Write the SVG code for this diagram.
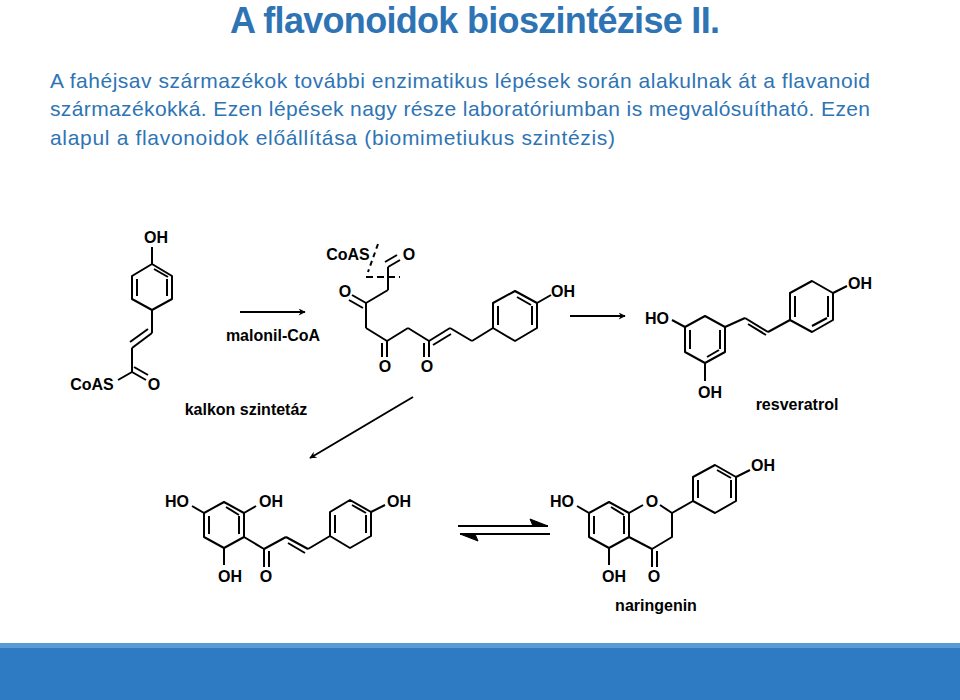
<svg xmlns="http://www.w3.org/2000/svg" width="960" height="700" viewBox="0 0 960 700">
<defs>
<style>
.t{font-family:"Liberation Sans",Arial,sans-serif;fill:#2e74b5;font-weight:bold}
.b{font-family:"Liberation Sans",Arial,sans-serif;fill:#2e74b5;font-size:21px}
.l{font-family:"Liberation Sans",Arial,sans-serif;font-weight:bold;font-size:16px;fill:#000;text-anchor:middle}
.m line,.m polyline,.m polygon{stroke:#000;stroke-width:2;fill:none;stroke-linejoin:round}
.a{stroke:#000;stroke-width:2;fill:none}
</style>
<marker id="ah" viewBox="0 0 10 10" refX="9" refY="5" markerWidth="9" markerHeight="7" markerUnits="userSpaceOnUse" orient="auto"><path d="M0,0 L10,5 L0,10 L3,5 Z" fill="#000"/></marker>
</defs>
<rect width="960" height="700" fill="#fff"/>
<text class="t" x="230" y="33" font-size="36" textLength="490">A flavonoidok bioszintézise II.</text>
<text class="b" x="50" y="88" textLength="820">A fahéjsav származékok további enzimatikus lépések során alakulnak át a flavanoid</text>
<text class="b" x="50" y="116" textLength="820">származékokká. Ezen lépések nagy része laboratóriumban is megvalósuítható. Ezen</text>
<text class="b" x="50" y="145" textLength="565">alapul a flavonoidok előállítása (biomimetiukus szintézis)</text>
<rect x="0" y="643" width="960" height="57" fill="#2e7bc4"/>
<rect x="0" y="643" width="960" height="5" fill="#5a9bd5"/>

<g id="coumaroyl" class="m">
<polygon points="152,264 172,276 172,299 152,310 132,299 132,276"/>
<line x1="137" y1="279" x2="137" y2="296"/><line x1="167" y1="279" x2="167" y2="296"/><line x1="154" y1="269" x2="168" y2="277"/>
<line x1="152" y1="264" x2="152" y2="247"/>
<line x1="152" y1="310" x2="152" y2="333"/>
<line x1="152" y1="333" x2="132" y2="348"/><line x1="148" y1="329" x2="130" y2="342"/>
<line x1="132" y1="348" x2="132" y2="372"/>
<line x1="132" y1="372" x2="118" y2="380"/>
<line x1="132" y1="372" x2="146" y2="380"/><line x1="134" y1="367" x2="148" y2="375"/>
<text class="l" x="156" y="243">OH</text>
<text class="l" x="92" y="390">CoAS</text>
<text class="l" x="154" y="390">O</text>
</g>

<g id="polyketide" class="m">
<line x1="388" y1="267" x2="388" y2="290"/>
<line x1="388" y1="267" x2="400" y2="260"/><line x1="385" y1="262" x2="397" y2="255"/>
<line x1="378" y1="244" x2="368" y2="272" stroke-dasharray="5,4"/>
<line x1="366" y1="277" x2="400" y2="277" stroke-dasharray="7,4"/>
<line x1="388" y1="290" x2="366" y2="303"/>
<line x1="366" y1="303" x2="352" y2="295"/><line x1="363" y1="308" x2="349" y2="300"/>
<line x1="366" y1="303" x2="366" y2="328"/>
<line x1="366" y1="328" x2="387" y2="341"/>
<line x1="387" y1="341" x2="387" y2="357"/><line x1="382" y1="343" x2="382" y2="357"/>
<line x1="387" y1="341" x2="408" y2="328"/>
<line x1="408" y1="328" x2="429" y2="341"/>
<line x1="429" y1="341" x2="429" y2="357"/><line x1="424" y1="343" x2="424" y2="357"/>
<line x1="429" y1="341" x2="450" y2="328"/><line x1="433" y1="345" x2="451" y2="334"/>
<line x1="450" y1="328" x2="472" y2="341"/>
<line x1="472" y1="341" x2="493" y2="328"/>
<polygon points="493,328 493,303 515,291 537,303 537,328 515,341"/>
<line x1="498" y1="306" x2="498" y2="325"/><line x1="532" y1="306" x2="532" y2="325"/><line x1="517" y1="297" x2="531" y2="305"/>
<line x1="537" y1="303" x2="551" y2="295"/>
<text class="l" x="348" y="260">CoAS</text>
<text class="l" x="409" y="260">O</text>
<text class="l" x="345" y="297">O</text>
<text class="l" x="385" y="372">O</text>
<text class="l" x="427" y="372">O</text>
<text class="l" x="563" y="297">OH</text>
</g>

<g id="resveratrol" class="m">
<polygon points="685,327 705,316 725,327 725,352 705,363 685,352"/>
<line x1="690" y1="330" x2="690" y2="349"/><line x1="720" y1="330" x2="720" y2="349"/><line x1="707" y1="357" x2="719" y2="350"/>
<line x1="685" y1="327" x2="672" y2="320"/>
<line x1="705" y1="363" x2="705" y2="381"/>
<line x1="725" y1="327" x2="745" y2="318"/>
<line x1="745" y1="318" x2="768" y2="332"/><line x1="748" y1="324" x2="766" y2="335"/>
<line x1="768" y1="332" x2="790" y2="320"/>
<polygon points="790,320 790,293 812,281 833,293 833,320 812,332"/>
<line x1="795" y1="296" x2="795" y2="317"/><line x1="828" y1="296" x2="828" y2="317"/><line x1="812" y1="326" x2="827" y2="318"/>
<line x1="833" y1="293" x2="847" y2="286"/>
<text class="l" x="657" y="324">HO</text>
<text class="l" x="710" y="398">OH</text>
<text class="l" x="860" y="289">OH</text>
<text class="l" x="797" y="410">resveratrol</text>
</g>

<g id="chalcone" class="m">
<polygon points="224,502 244,513 244,537 224,548 204,537 204,513"/>
<line x1="209" y1="516" x2="209" y2="534"/><line x1="239" y1="516" x2="239" y2="534"/><line x1="226" y1="507" x2="239" y2="515"/>
<line x1="204" y1="513" x2="192" y2="506"/>
<line x1="244" y1="513" x2="256" y2="506"/>
<line x1="224" y1="548" x2="224" y2="565"/>
<line x1="244" y1="537" x2="264" y2="549"/>
<line x1="264" y1="549" x2="264" y2="567"/><line x1="269" y1="551" x2="269" y2="567"/>
<line x1="264" y1="549" x2="286" y2="537"/>
<line x1="286" y1="537" x2="308" y2="549"/><line x1="288" y1="543" x2="305" y2="553"/>
<line x1="308" y1="549" x2="330" y2="536"/>
<polygon points="330,536 330,512 350,500 371,512 371,536 350,548"/>
<line x1="335" y1="515" x2="335" y2="533"/><line x1="366" y1="515" x2="366" y2="533"/><line x1="352" y1="505" x2="366" y2="513"/>
<line x1="371" y1="512" x2="385" y2="505"/>
<text class="l" x="177" y="507">HO</text>
<text class="l" x="271" y="507">OH</text>
<text class="l" x="230" y="582">OH</text>
<text class="l" x="266" y="582">O</text>
<text class="l" x="399" y="507">OH</text>
</g>

<g id="naringenin" class="m">
<polygon points="609,502 629,513 629,537 609,548 589,537 589,513"/>
<line x1="594" y1="516" x2="594" y2="534"/><line x1="624" y1="516" x2="624" y2="534"/><line x1="611" y1="507" x2="624" y2="515"/>
<line x1="589" y1="513" x2="577" y2="506"/>
<polyline points="629,513 643,505"/>
<polyline points="660,505 672,513 672,537 652,549 629,537"/>
<line x1="652" y1="549" x2="652" y2="567"/><line x1="657" y1="551" x2="657" y2="567"/>
<line x1="609" y1="548" x2="609" y2="565"/>
<line x1="672" y1="513" x2="693" y2="501"/>
<polygon points="693,501 693,477 715,465 736,477 736,501 715,513"/>
<line x1="698" y1="480" x2="698" y2="498"/><line x1="731" y1="480" x2="731" y2="498"/><line x1="717" y1="470" x2="731" y2="478"/>
<line x1="736" y1="477" x2="750" y2="470"/>
<text class="l" x="562" y="507">HO</text>
<text class="l" x="652" y="507">O</text>
<text class="l" x="614" y="582">OH</text>
<text class="l" x="654" y="582">O</text>
<text class="l" x="763" y="471">OH</text>
<text class="l" x="656" y="611">naringenin</text>
</g>

<g id="connectors">
<line class="a" x1="240" y1="312" x2="305" y2="312" marker-end="url(#ah)"/>
<line class="a" x1="570" y1="316" x2="625" y2="316" marker-end="url(#ah)"/>
<line class="a" x1="413" y1="397" x2="310" y2="458" marker-end="url(#ah)"/>
<line class="a" x1="458" y1="526" x2="548" y2="526"/>
<path d="M548,526 L530,519 L533,526 Z" fill="#000" stroke="#000" stroke-width="1"/>
<line class="a" x1="460" y1="534" x2="550" y2="534"/>
<path d="M460,534 L478,541 L475,534 Z" fill="#000" stroke="#000" stroke-width="1"/>
<text class="l" x="273" y="341">malonil-CoA</text>
<text class="l" x="246" y="415">kalkon szintetáz</text>
</g>
</svg>
